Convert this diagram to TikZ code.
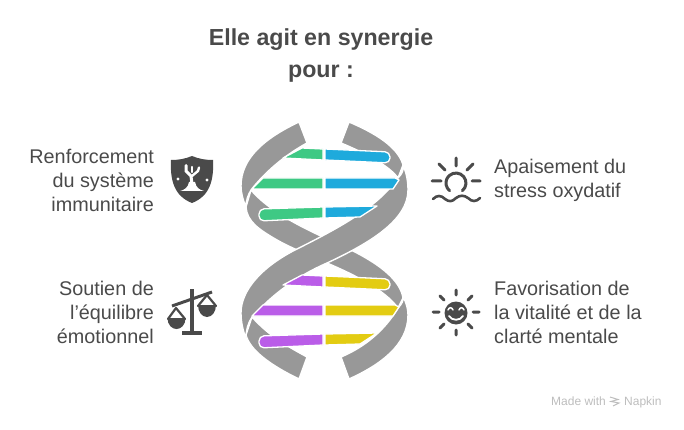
\documentclass[tikz,border=0pt]{standalone}
\usepackage{fontspec}
\setmainfont{Liberation Sans}
\definecolor{gris}{HTML}{989898}
\definecolor{sombre}{HTML}{4A4A4A}
\definecolor{pale}{HTML}{BDBDBD}
\definecolor{vertbar}{HTML}{3EC984}
\definecolor{bleubar}{HTML}{1EAADC}
\definecolor{violetbar}{HTML}{BA5DE8}
\definecolor{jaunebar}{HTML}{E3CC12}
\begin{document}
\begin{tikzpicture}[x=1pt,y=-1pt]
            \tikzstyle{titre}=[align=center,text=sombre,font=\fontsize{23.2}{32}\selectfont\bfseries]
            \tikzstyle{texte}=[text=sombre,inner sep=0pt,font=\fontsize{19.8}{24}\selectfont]
            \tikzstyle{brin}=[fill=gris,draw=white,line width=1.4pt,line join=round]
            \tikzstyle{barre}=[draw=white,line width=1.3pt,line join=round]
            \tikzstyle{trait}=[draw=sombre,line width=3pt,line cap=round,line join=round]
            \tikzstyle{marque}=[text=pale,inner sep=0pt,font=\fontsize{12}{14}\selectfont]
            \useasboundingbox (0,0) rectangle (684,430);
            \node[titre] (titre) at (321,56) {Elle agit en synergie\\pour :};
            \draw[brin] (251,190) .. controls (275,218) and (320,235) .. (355,252) .. controls (380,265) and (400,280) .. (403,298) -- (398,308) .. controls (385,290) and (355,275) .. (327,263) .. controls (310,255) and (295,250) .. (277,240) .. controls (260,230) and (247,222) .. (246,207) -- cycle;
            \draw[brin] (349,122) .. controls (375,133) and (398,147) .. (403,165) -- (398,178) .. controls (390,167) and (370,155) .. (341,143) -- cycle;
            \draw[brin] (252,317) -- (246,335) .. controls (250,350) and (270,365) .. (299,379) -- (307,357) .. controls (285,345) and (268,335) .. (252,317) -- cycle;
            \draw[brin] (299,122) .. controls (265,138) and (241,158) .. (241,186) .. controls (241,193) and (243,200) .. (246,207) .. controls (246,200) and (248,195) .. (251,190) .. controls (265,172) and (285,155) .. (307,143) -- cycle;
            \draw[brin] (403,296) .. controls (407,305) and (408,310) .. (408,315) .. controls (408,345) and (380,365) .. (349,379) -- (341,357) .. controls (365,347) and (385,330) .. (398,308) .. controls (402,304) and (404,300) .. (403,296) -- cycle;
            \draw[brin] (403,165) .. controls (404,170) and (402,174) .. (398,178) .. controls (378,206) and (345,225) .. (295,250) .. controls (262,267) and (241,290) .. (241,313) .. controls (241,322) and (243,331) .. (246,338) .. controls (246,330) and (248,323) .. (252,317) .. controls (272,295) and (295,277) .. (327,263) .. controls (370,243) and (408,220) .. (408,190) .. controls (408,180) and (406,172) .. (403,165) -- cycle;
            \foreach \dy/\cg/\cd in {0/vertbar/bleubar,127/violetbar/jaunebar}{
                \begin{scope}[yshift=-\dy pt]
                    \draw[barre,fill=\cg] (283,158) -- (302,148) -- (323,149) -- (323,160) -- cycle;
                    \draw[barre,fill=\cd] (325,149) [rounded corners=5pt] -- (390,152) -- (390,163) [sharp corners] -- (325,160) -- cycle;
                    \draw[barre,fill=\cg] (252,189) -- (263,178) -- (323,178) -- (323,189) -- cycle;
                    \draw[barre,fill=\cd] (325,178) -- (395,178) -- (399,180) -- (393,189) -- (325,189) -- cycle;
                    \draw[barre,fill=\cg] (323,207) [rounded corners=5pt] -- (259,209) -- (259,221) [sharp corners] -- (323,218) -- cycle;
                    \draw[barre,fill=\cd] (325,207) -- (377,206) -- (360,217) -- (325,218) -- cycle;
                \end{scope}
            }
            \node[texte,align=right,anchor=east] (renfort) at (154,180) {Renforcement\\du système\\immunitaire};
            \node[texte,align=left,anchor=west] (apaise) at (494,180) {Apaisement du\\stress oxydatif};
            \node[texte,align=right,anchor=east] (soutien) at (154,312) {Soutien de\\l’équilibre\\émotionnel};
            \node[texte,align=left,anchor=west] (vitalite) at (494,312) {Favorisation de\\la vitalité et de la\\clarté mentale};
            \fill[sombre] (192,156) .. controls (185,159) and (178,160) .. (171,160) .. controls (170,180) and (174,196) .. (192,203) .. controls (210,196) and (214,180) .. (213,160) .. controls (206,160) and (199,159) .. (192,156) -- cycle;
            \fill[white] (180,191) .. controls (184,190) and (188,188) .. (189,182) -- (195,182) .. controls (196,188) and (200,190) .. (204,191) -- cycle;
            \draw[white,line width=3pt,line cap=round] (192,184) -- (191,176) -- (186,171) -- (186,165.5);
            \draw[white,line width=2.4pt,line cap=round] (192,176) -- (198,171) -- (199,167.5);
            \draw[white,line width=2.4pt,line cap=round] (192,172) -- (192,167);
            \fill[white] (178,179) circle (1.6pt) (207,180) circle (1.6pt);
            \draw[trait,line cap=butt] (172,306) -- (212,292);
            \draw[trait,line width=3.2pt,line cap=butt] (192,289) -- (192,332);
            \draw[trait,line width=3.2pt,line cap=butt] (182,333) -- (202,333);
            \draw[trait,line width=2.2pt] (168,319) -- (176,308) -- (185,319);
            \draw[trait,line width=2.2pt] (198,306) -- (207,295) -- (216,306);
            \fill[sombre] (167.5,318) -- (185.5,318) .. controls (185.5,325) and (181,329) .. (176.5,329) .. controls (172,329) and (167.5,325) .. (167.5,318) -- cycle;
            \fill[sombre] (198,305) -- (216,305) .. controls (216,312) and (212,317) .. (207,317) .. controls (202,317) and (198,312) .. (198,305) -- cycle;
            \draw[trait] (462.4,190.7) arc[start angle=-50,end angle=230,radius=10pt];
            \draw[trait] (456,158) -- (456,166) (439,164) -- (445,170) (473,164) -- (467,170) (432,181) -- (441,181) (472,181) -- (480,181);
            \draw[trait,line width=2.6pt] (433,199) .. controls (437,195) and (441,195) .. (445,199) .. controls (449,202) and (452,202) .. (456,198) .. controls (460,195) and (464,195) .. (468,198) .. controls (472,202) and (476,202) .. (480,198);
            \fill[sombre] (456,313) circle (11.5pt);
            \draw[trait] (456,290) -- (456,295) (456,330) -- (456,335) (433,312) -- (439,312) (473,312) -- (479,312) (440,296) -- (444,300) (472,296) -- (468,300) (440,328) -- (444,324) (472,328) -- (468,324);
            \draw[white,line width=1.5pt,line cap=round] (448,310) .. controls (449,307) and (452,307) .. (453,310) (459,310) .. controls (460,307) and (463,307) .. (464,310);
            \draw[white,line width=1.8pt,line cap=round] (449,316) .. controls (452,321) and (460,321) .. (463,316);
            \node[marque,anchor=base west] (made) at (551,405) {Made with};
            \draw[pale,line width=1pt] (610,397) -- (618,399.5) -- (611,401.5) -- (619,403) -- (613,406);
            \node[marque,anchor=base west] (napkin) at (624,405) {Napkin};
\end{tikzpicture}
\end{document}
